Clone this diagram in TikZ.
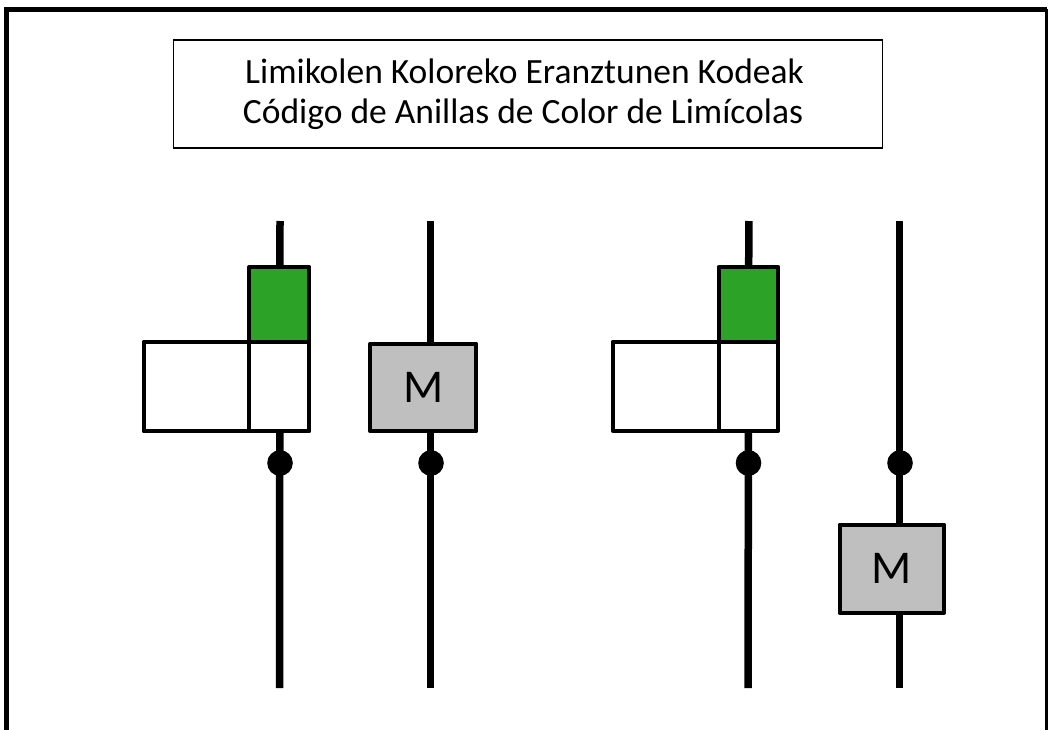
\documentclass[tikz,border=0pt]{standalone}
\usepackage{fontspec}
\setmainfont{Carlito}
\definecolor{ringgreen}{RGB}{44,163,38}
\definecolor{ringgray}{RGB}{191,191,191}
\begin{document}
\begin{tikzpicture}[x=1pt,y=-1pt,
  leg/.style={line width=7.5pt},
  ring/.style={draw, line width=4.3pt, line join=round, rectangle, inner sep=0pt},
  greenring/.style={ring, fill=ringgreen},
  whitering/.style={ring, fill=white},
  metalring/.style={ring, fill=ringgray, font=\fontsize{47}{50}\selectfont},
  knee/.style={circle, fill=black, inner sep=0pt, minimum size=25.6pt},
  titletext/.style={font=\fontsize{35.5}{40}\selectfont, anchor=base, inner sep=0pt}]
\useasboundingbox (0,0) rectangle (1051,730);
% outer frame
\draw[line width=5pt] (6.5,740) -- (6.5,9.3) -- (1046.5,9.3);
\draw[line width=3pt] (1046.5,9.3) -- (1046.5,740);
% title
\node[draw, line width=1.8pt, minimum width=709pt, minimum height=108pt, inner sep=0pt] (title) at (528,93.7) {};
\node[titletext] (t1) at (524.5,84) {Limikolen Koloreko Eranztunen Kodeak};
\node[titletext] (t2) at (523,124) {Código de Anillas de Color de Limícolas};
% legs
\coordinate (a1) at (280,221); \coordinate (a2) at (279.5,688);
\coordinate (b1) at (430.5,221); \coordinate (b2) at (430.5,688);
\coordinate (c1) at (748.8,221); \coordinate (c2) at (748,688);
\coordinate (d1) at (899.5,221); \coordinate (d2) at (899.5,688);
\draw[leg] (a1) -- (a2);
\draw[leg] (b1) -- (b2);
\draw[leg] (c1) -- (c2);
\draw[leg] (d1) -- (d2);
% knee joints
\node[knee] (ka) at (280,463) {};
\node[knee] (kb) at (431,463) {};
\node[knee] (kc) at (748.5,463) {};
\node[knee] (kd) at (900,463) {};
% bird 1
\node[greenring, minimum width=60pt, minimum height=74.7pt] (g1) at (279.3,304.3) {};
\node[whitering, minimum width=60pt, minimum height=89.6pt] (w1) at (279.3,386.5) {};
\node[whitering, minimum width=105.6pt, minimum height=89.6pt] (f1) at (196.5,386.5) {};
\node[metalring, minimum width=106pt, minimum height=87.6pt] (m1) at (423.3,387.5) {M};
% bird 2
\node[greenring, minimum width=59.3pt, minimum height=74.7pt] (g2) at (748.3,304.3) {};
\node[whitering, minimum width=59.3pt, minimum height=89pt] (w2) at (748.3,386.2) {};
\node[whitering, minimum width=106pt, minimum height=89pt] (f2) at (665.7,386.2) {};
\node[metalring, minimum width=104.3pt, minimum height=88.3pt] (m2) at (891.8,568.8) {M};
\end{tikzpicture}
\end{document}
